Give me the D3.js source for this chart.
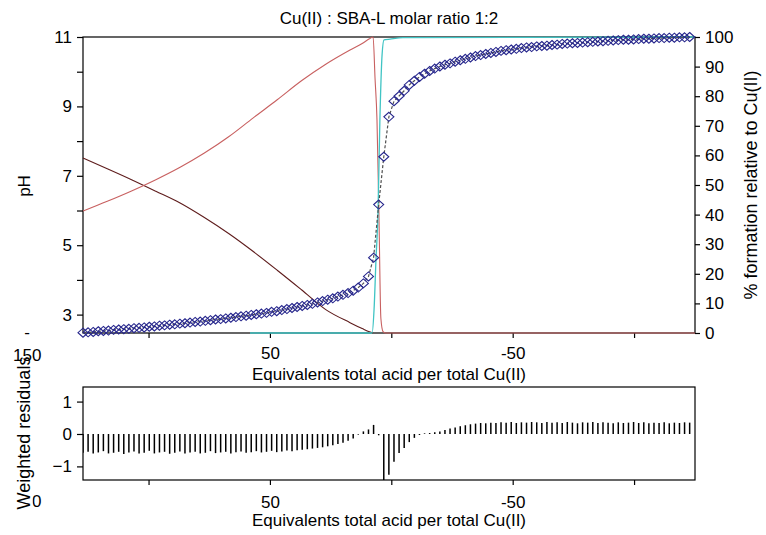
<!DOCTYPE html>
<html>
<head>
<meta charset="utf-8">
<script src="https://cdnjs.cloudflare.com/ajax/libs/d3/7.8.5/d3.min.js"></script>
<style>
  body { margin: 0; background: #fff; }
  svg text { font-family: "Liberation Sans", Arial, sans-serif; fill: #000; }
</style>
</head>
<body>
<svg id="chart" width="766" height="535"></svg>
<script>
// --- titration data (equivalents of acid per Cu(II), observed pH, weighted residuals) ---
const equiv = [127.0, 124.9, 122.8, 120.7, 118.6, 116.5, 114.4, 112.3, 110.2, 108.1,
  106.0, 103.9, 101.8, 99.7, 97.6, 95.5, 93.4, 91.3, 89.2, 87.1,
  85.0, 82.9, 80.8, 78.7, 76.6, 74.5, 72.4, 70.3, 68.2, 66.1,
  64.0, 61.9, 59.8, 57.7, 55.6, 53.5, 51.4, 49.3, 47.2, 45.1,
  43.0, 40.9, 38.8, 36.7, 34.6, 32.5, 30.4, 28.3, 26.2, 24.1,
  22.0, 19.9, 17.8, 15.7, 13.6, 11.5, 9.4, 7.3, 5.2, 3.1,
  1.0, -1.1, -3.2, -5.3, -7.4, -9.5, -11.6, -13.7, -15.8, -17.9,
  -20.0, -22.1, -24.2, -26.3, -28.4, -30.5, -32.6, -34.7, -36.8, -38.9,
  -41.0, -43.1, -45.2, -47.3, -49.4, -51.5, -53.6, -55.7, -57.8, -59.9,
  -62.0, -64.1, -66.2, -68.3, -70.4, -72.5, -74.6, -76.7, -78.8, -80.9,
  -83.0, -85.1, -87.2, -89.3, -91.4, -93.5, -95.6, -97.7, -99.8, -101.9,
  -104.0, -106.1, -108.2, -110.3, -112.4, -114.5, -116.6, -118.7, -120.8, -122.9];

const pHObs = [2.48, 2.49, 2.50, 2.52, 2.53, 2.54, 2.56, 2.57, 2.58, 2.59,
  2.61, 2.62, 2.63, 2.65, 2.66, 2.68, 2.69, 2.71, 2.72, 2.74,
  2.75, 2.77, 2.79, 2.80, 2.82, 2.84, 2.86, 2.87, 2.89, 2.91,
  2.93, 2.95, 2.97, 2.99, 3.01, 3.03, 3.05, 3.08, 3.10, 3.13,
  3.16, 3.19, 3.22, 3.25, 3.28, 3.31, 3.35, 3.39, 3.43, 3.47,
  3.52, 3.57, 3.62, 3.69, 3.78, 3.90, 4.10, 4.64, 6.17, 7.55,
  8.70, 9.15, 9.30, 9.45, 9.62, 9.74, 9.85, 9.94, 10.02, 10.09,
  10.15, 10.20, 10.24, 10.29, 10.33, 10.37, 10.41, 10.45, 10.48, 10.51,
  10.54, 10.57, 10.60, 10.62, 10.64, 10.66, 10.68, 10.70, 10.71, 10.73,
  10.74, 10.75, 10.77, 10.78, 10.80, 10.81, 10.82, 10.83, 10.84, 10.85,
  10.86, 10.87, 10.88, 10.89, 10.90, 10.91, 10.92, 10.92, 10.93, 10.94,
  10.95, 10.95, 10.96, 10.97, 10.97, 10.98, 10.98, 10.99, 10.99, 11.00];

const residuals = [-0.58, -0.55, -0.60, -0.57, -0.53, -0.60, -0.58, -0.55, -0.62, -0.57,
  -0.54, -0.60, -0.58, -0.52, -0.60, -0.57, -0.55, -0.61, -0.58, -0.54,
  -0.60, -0.57, -0.55, -0.60, -0.58, -0.53, -0.59, -0.57, -0.55, -0.60,
  -0.56, -0.54, -0.58, -0.56, -0.53, -0.57, -0.55, -0.52, -0.56, -0.54,
  -0.51, -0.53, -0.50, -0.49, -0.47, -0.45, -0.43, -0.41, -0.38, -0.35,
  -0.31, -0.27, -0.21, -0.14, -0.02, 0.08, 0.14, 0.28, -0.04, -1.60,
  -1.26, -0.86, -0.59, -0.43, -0.25, -0.12, -0.03, 0.02, 0.03, 0.05,
  0.08, 0.12, 0.17, 0.20, 0.24, 0.27, 0.30, 0.32, 0.34, 0.33,
  0.35, 0.34, 0.36, 0.35, 0.37, 0.34, 0.36, 0.35, 0.37, 0.36,
  0.34, 0.37, 0.35, 0.36, 0.34, 0.37, 0.35, 0.33, 0.36, 0.35,
  0.37, 0.34, 0.36, 0.35, 0.33, 0.36, 0.34, 0.35, 0.37, 0.34,
  0.36, 0.33, 0.35, 0.34, 0.36, 0.33, 0.35, 0.34, 0.36, 0.35];

// --- species distribution (% formation relative to Cu(II)) ---
const cuFreeX   = [127, 117, 107, 97, 87, 77, 67, 57, 47, 37, 27, 17, 12, 9, 7.5];
const cuFreePct = [59.1, 55.5, 51.8, 47.9, 43.9, 39.0, 33.6, 27.6, 21.2, 14.6, 7.9, 3.5, 1.5, 0.4, 0.0];

const cuLX   = [127, 117, 107, 97, 87, 77, 67, 57, 47, 37, 27, 17, 12, 9, 7.5, 6.7, 5.9, 5.1, 4.3, 3.4, 2.2, -125.1];
const cuLPct = [41.2, 44.5, 48.0, 51.8, 56.0, 60.8, 66.3, 72.6, 78.8, 85.2, 90.8, 95.6, 97.8, 99.4, 100.0, 86.0, 72.0, 40.0, 5.0, 0.5, 0.0, 0.0];

const cuL2X   = [58.2, 7.9, 7.1, 6.3, 5.5, 4.7, 3.8, 3.0, 0.5, -4.8, -125.1];
const cuL2Pct = [0.0, 0.0, 8.0, 25.0, 40.0, 72.0, 94.0, 99.0, 99.3, 99.8, 100.0];

// --- ticks ---
const equivTicks = [100, 50, 0, -50, -100];
const equivLabels = [50, -50];
const pHTicks = [3, 4, 5, 6, 7, 8, 9, 10, 11];
const pctTicks = [0, 10, 20, 30, 40, 50, 60, 70, 80, 90, 100];
const resTicks = [-1, 0, 1];

const svg = d3.select('#chart');
const left = 83, right = 695;
const top1 = 37, bot1 = 333;
const top2 = 387, bot2 = 480;

const x = d3.scaleLinear().domain([127, -125.1]).range([left, right]);
const yPH = d3.scaleLinear().domain([2.47, 11]).range([bot1, top1]);
const yPct = d3.scaleLinear().domain([0, 100]).range([bot1, top1]);
const yRes = d3.scaleLinear().domain([-1.42, 1.45]).range([bot2, top2]);

const fontTick = '17px';
const fontLab = '17px';

function styleAxis(g) {
    g.select('.domain').remove();
    g.selectAll('.tick line').attr('stroke', '#000').attr('stroke-width', 1.2);
    g.selectAll('.tick text').style('font-size', fontTick).attr('fill', '#000');
}

// --- top panel ---
svg.append('text').attr('x', 389).attr('y', 24).attr('text-anchor', 'middle')
    .style('font-size', '17px').text('Cu(II) : SBA-L molar ratio 1:2');

svg.append('rect').attr('x', left).attr('y', top1)
    .attr('width', right - left).attr('height', bot1 - top1)
    .attr('fill', 'none').attr('stroke', '#000').attr('stroke-width', 1.2);

svg.append('g').attr('transform', `translate(${left},0)`)
    .call(d3.axisLeft(yPH).tickValues(pHTicks).tickSize(6).tickPadding(5)
        .tickFormat(d => d % 2 === 1 ? d : ''))
    .call(styleAxis);

svg.append('g').attr('transform', `translate(${right},0)`)
    .call(d3.axisRight(yPct).tickValues(pctTicks).tickSize(5).tickPadding(5))
    .call(styleAxis);

svg.append('g').attr('transform', `translate(0,${bot1})`)
    .call(d3.axisBottom(x).tickValues(equivTicks).tickSize(5).tickPadding(9)
        .tickFormat(d => equivLabels.includes(d) ? d : ''))
    .call(styleAxis);
svg.append('text').attr('x', x(150)).attr('y', 361).attr('text-anchor', 'middle')
    .style('font-size', fontTick).text('150');
svg.append('text').attr('x', 27).attr('y', 338).attr('text-anchor', 'middle')
    .style('font-size', fontTick).text('-');

const lineFn = (xs, ys, yScale) => d3.line()
    .x((d, i) => x(xs[i])).y((d, i) => yScale(ys[i]))
    .curve(d3.curveMonotoneX)(xs);

svg.append('path').attr('d', lineFn(cuFreeX, cuFreePct, yPct))
    .attr('fill', 'none').attr('stroke', '#5e1c1c').attr('stroke-width', 1.1);
svg.append('path').attr('d', lineFn(cuLX, cuLPct, yPct))
    .attr('fill', 'none').attr('stroke', '#c86060').attr('stroke-width', 1.1);
svg.append('path').attr('d', lineFn(cuL2X, cuL2Pct, yPct))
    .attr('fill', 'none').attr('stroke', '#40c4c4').attr('stroke-width', 1.3);

// fitted pH curve
svg.append('path')
    .attr('d', d3.line().x((d, i) => x(equiv[i])).y((d, i) => yPH(pHObs[i]))(equiv))
    .attr('fill', 'none').attr('stroke', '#505050').attr('stroke-width', 1.2)
    .attr('stroke-dasharray', '3,2');

svg.append('g').selectAll('path').data(equiv).join('path')
    .attr('transform', (d, i) => `translate(${x(d)},${yPH(pHObs[i])})`)
    .attr('d', 'M0,-4.5L5,0L0,4.5L-5,0Z')
    .attr('fill', 'none').attr('stroke', '#26268c').attr('stroke-width', 1.1);

svg.append('text').attr('transform', 'translate(30,186) rotate(-90)')
    .attr('text-anchor', 'middle').style('font-size', fontLab).text('pH');
svg.append('text').attr('transform', 'translate(757,185) rotate(-90)')
    .attr('text-anchor', 'middle').style('font-size', '18px').text('% formation relative to Cu(II)');
svg.append('text').attr('x', 389).attr('y', 380).attr('text-anchor', 'middle')
    .style('font-size', fontLab).text('Equivalents total acid per total Cu(II)');

// --- residual panel ---
svg.append('defs').append('clipPath').attr('id', 'resClip')
    .append('rect').attr('x', left).attr('y', top2).attr('width', right - left).attr('height', bot2 - top2);

svg.append('g').attr('clip-path', 'url(#resClip)')
    .selectAll('line').data(equiv).join('line')
    .attr('x1', d => x(d)).attr('x2', d => x(d))
    .attr('y1', yRes(0)).attr('y2', (d, i) => yRes(residuals[i]))
    .attr('stroke', '#000').attr('stroke-width', 1.5);

svg.append('rect').attr('x', left).attr('y', top2)
    .attr('width', right - left).attr('height', bot2 - top2)
    .attr('fill', 'none').attr('stroke', '#000').attr('stroke-width', 1.2);

svg.append('g').attr('transform', `translate(${left},0)`)
    .call(d3.axisLeft(yRes).tickValues(resTicks).tickSize(6).tickPadding(5).tickFormat(d3.format('d')))
    .call(styleAxis);

svg.append('g').attr('transform', `translate(0,${bot2})`)
    .call(d3.axisBottom(x).tickValues(equivTicks).tickSize(5).tickPadding(11)
        .tickFormat(d => equivLabels.includes(d) ? d : ''))
    .call(styleAxis);
svg.append('text').attr('x', x(150)).attr('y', 507).attr('text-anchor', 'middle')
    .style('font-size', fontTick).text('150');

svg.append('rect').attr('x', 0).attr('y', 440).attr('width', 32.5).attr('height', 80).attr('fill', '#fff');
svg.append('text').attr('transform', 'translate(30,433) rotate(-90)')
    .attr('text-anchor', 'middle').style('font-size', '18px').text('Weighted residuals');
svg.append('text').attr('x', 389).attr('y', 526).attr('text-anchor', 'middle')
    .style('font-size', fontLab).text('Equivalents total acid per total Cu(II)');
</script>
</body>
</html>
